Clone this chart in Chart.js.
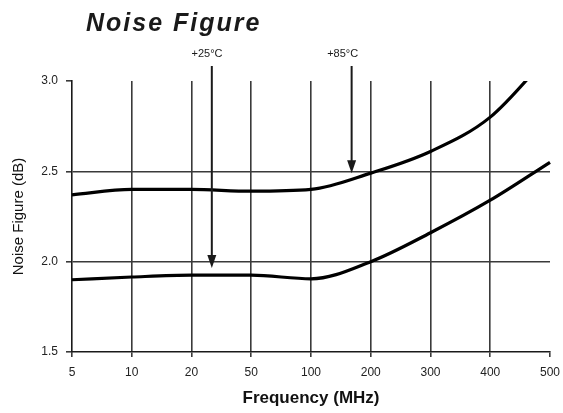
<!DOCTYPE html>
<html><head><meta charset="utf-8">
<script src="https://cdn.jsdelivr.net/npm/chart.js@4"></script>
<style>html,body{margin:0;padding:0;background:#fff}#wrap{width:563px;height:413px;position:relative}</style>
</head><body><div id="wrap"><canvas id="c"></canvas></div>
<script>
const frequencies = ['5','10','20','50','100','200','300','400','500'];
const nf85 = [2.37, 2.40, 2.40, 2.39, 2.40, 2.49, 2.61, 2.80, 3.15];
const nf25 = [1.90, 1.915, 1.925, 1.925, 1.905, 2.00, 2.16, 2.34, 2.55];
const yTicks = [1.5, 2.0, 2.5, 3.0];
const titleText = 'Noise Figure';
const xTitle = 'Frequency (MHz)';
const yTitle = 'Noise Figure (dB)';
const arrowLabels = ['+25°C', '+85°C'];
const arrowX = [2.34, 4.68];
const arrowLabelX = [2.26, 4.53];
const arrowTip = [1.965, 2.49];
const arrowTop = 3.083;
const arrowLabelY = 3.15;

const ink = '#1a1a1a';
const gridInk = '#3a3a3a';
const clear = 'rgba(0,0,0,0)';

const annot = {
  id: 'annot',
  afterDatasetsDraw(chart) {
    const {ctx, scales: {x, y}} = chart;
    ctx.save();
    ctx.strokeStyle = ink; ctx.fillStyle = ink; ctx.lineWidth = 2;
    arrowLabels.forEach((t, i) => {
      const px = x.getPixelForValue(arrowX[i]);
      const top = y.getPixelForValue(arrowTop);
      const tip = y.getPixelForValue(arrowTip[i]);
      ctx.beginPath(); ctx.moveTo(px, top); ctx.lineTo(px, tip - 10); ctx.stroke();
      ctx.beginPath(); ctx.moveTo(px - 4.5, tip - 13); ctx.lineTo(px + 4.5, tip - 13); ctx.lineTo(px, tip); ctx.closePath(); ctx.fill();
      ctx.font = '11px "Liberation Sans", Arial, sans-serif';
      ctx.textAlign = 'center'; ctx.textBaseline = 'middle';
      ctx.fillText(t, x.getPixelForValue(arrowLabelX[i]), y.getPixelForValue(arrowLabelY));
    });
    ctx.font = 'italic bold 25px "Liberation Sans", Arial, sans-serif';
    ctx.letterSpacing = '2px';
    ctx.textAlign = 'left'; ctx.textBaseline = 'alphabetic';
    ctx.fillText(titleText, 86, 31);
    ctx.restore();
  }
};

new Chart(document.getElementById('c'), {
  type: 'line',
  data: {
    labels: frequencies,
    datasets: [
      {label: '+85°C', data: nf85, borderColor: '#000', borderWidth: 3.2, pointRadius: 0, cubicInterpolationMode: 'monotone', fill: false},
      {label: '+25°C', data: nf25, borderColor: '#000', borderWidth: 3.2, pointRadius: 0, cubicInterpolationMode: 'monotone', fill: false}
    ]
  },
  options: {
    responsive: true,
    maintainAspectRatio: false,
    animation: false,
    layout: {padding: {top: 81, right: 13, left: 0, bottom: 0}},
    plugins: {legend: {display: false}, tooltip: {enabled: false}},
    scales: {
      x: {
        type: 'category',
        offset: false,
        afterFit(s) { s.height = 61; s.paddingRight = 0; s.paddingLeft = 0; },
        grid: {
          color: c => (c.index === 0 || c.index === frequencies.length - 1) ? clear : gridInk,
          lineWidth: 1.6, tickLength: 5, tickColor: gridInk, drawTicks: true
        },
        border: {display: true, color: ink, width: 1.6},
        ticks: {color: '#222', font: {family: '"Liberation Sans", Arial, sans-serif', size: 12}, padding: 8, maxRotation: 0, autoSkip: false},
        title: {display: true, text: xTitle, color: '#111', font: {family: '"Liberation Sans", Arial, sans-serif', size: 17, weight: 'bold'}, padding: {top: 2, bottom: 4}}
      },
      y: {
        min: 1.5, max: 3.0,
        afterFit(s) { s.width = 72; },
        afterBuildTicks(s) { s.ticks = yTicks.map(v => ({value: v})); },
        grid: {
          color: c => (c.tick && (c.tick.value === 3.0 || c.tick.value === 1.5)) ? clear : gridInk,
          lineWidth: 1.6, tickLength: 6, tickColor: gridInk, drawTicks: true
        },
        border: {display: true, color: ink, width: 1.6},
        ticks: {color: '#222', font: {family: '"Liberation Sans", Arial, sans-serif', size: 12}, padding: 8, callback: v => Number(v).toFixed(1)},
        title: {display: true, text: yTitle, color: '#111', font: {family: '"Liberation Sans", Arial, sans-serif', size: 15}, padding: {top: 10, bottom: 0}}
      }
    }
  },
  plugins: [annot]
});
</script>
</body></html>
